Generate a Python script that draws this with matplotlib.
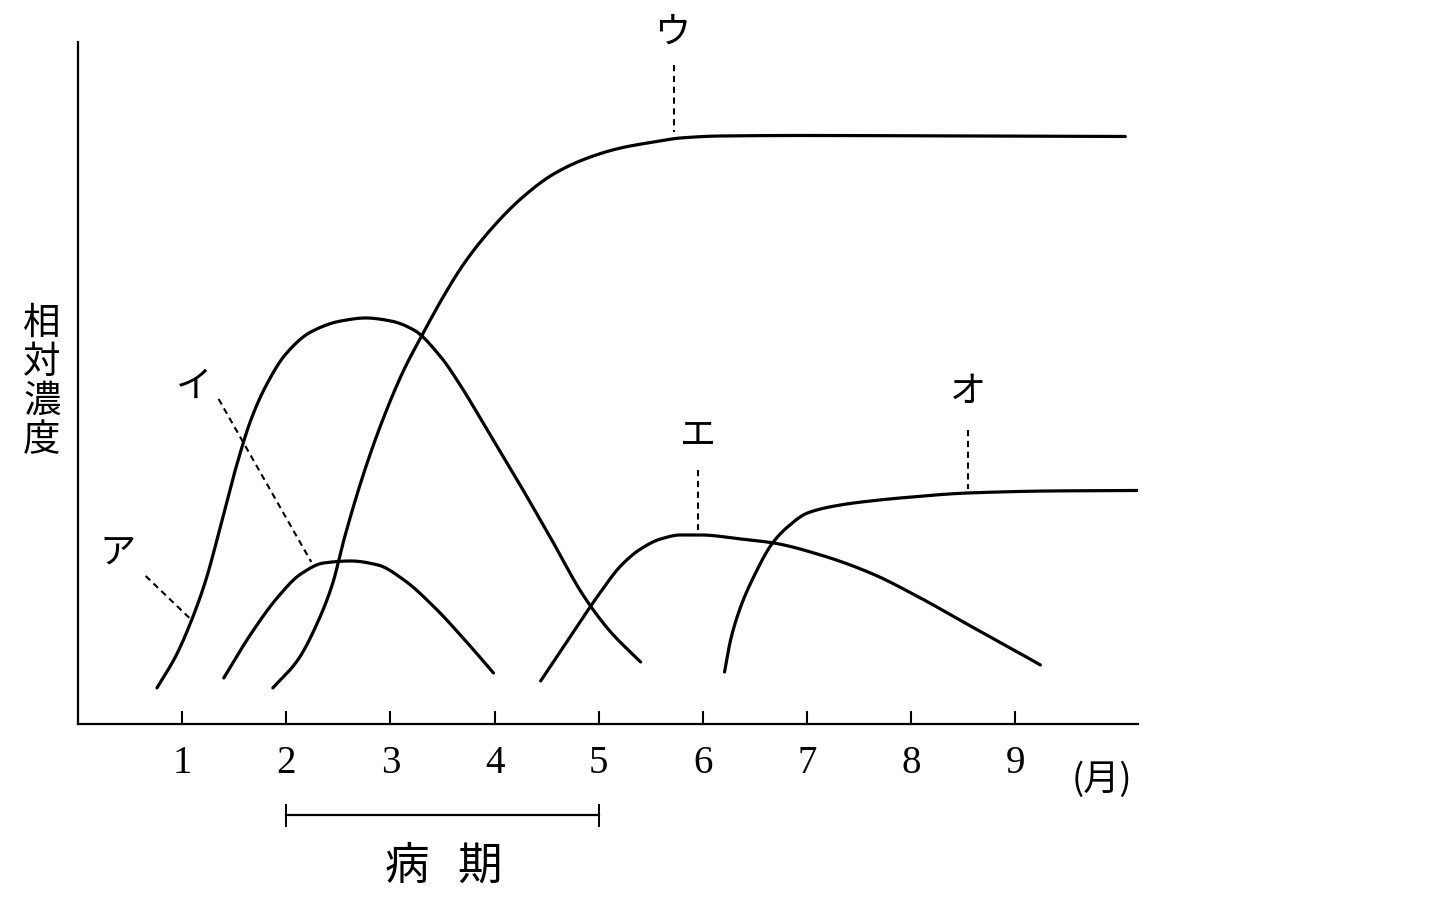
import numpy as np
import matplotlib
matplotlib.use("Agg")
import matplotlib.pyplot as plt

plt.rcParams['font.family'] = ['Noto Sans CJK JP', 'DejaVu Sans']

# months (x) and relative concentration (y)
a_x = [0.758, 0.940, 1.084, 1.228, 1.372, 1.516, 1.660, 1.804, 1.996, 2.236, 2.524,
       2.764, 3.004, 3.225, 3.484, 3.676, 3.896, 4.223, 4.539, 4.856, 5.115, 5.403]
a_y = [0.36, 0.68, 1.02, 1.44, 1.99, 2.56, 3.04, 3.38, 3.70, 3.92, 4.03,
       4.06, 4.03, 3.94, 3.67, 3.38, 3.00, 2.43, 1.86, 1.28, 0.92, 0.62]

i_x = [1.40, 1.66, 1.92, 2.14, 2.36, 2.62, 2.88, 3.13, 3.42, 3.74, 3.99]
i_y = [0.46, 0.90, 1.27, 1.50, 1.61, 1.63, 1.59, 1.44, 1.17, 0.81, 0.51]

u_x = [1.871, 2.111, 2.303, 2.447, 2.553, 2.745, 2.937, 3.129, 3.321, 3.512, 3.704,
       3.935, 4.251, 4.568, 4.894, 5.211, 5.528, 5.787, 6.171, 6.939, 8.378, 10.058]
u_y = [0.36, 0.64, 1.02, 1.41, 1.84, 2.51, 3.07, 3.54, 3.92, 4.28, 4.60,
       4.91, 5.25, 5.50, 5.66, 5.76, 5.82, 5.86, 5.88, 5.885, 5.88, 5.875]

e_x = [4.443, 4.635, 4.827, 5.019, 5.211, 5.403, 5.595, 5.787, 5.979, 6.363, 6.679,
       7.131, 7.610, 8.090, 8.570, 8.954, 9.242]
e_y = [0.43, 0.73, 1.03, 1.32, 1.58, 1.75, 1.85, 1.89, 1.89, 1.85, 1.81,
       1.69, 1.51, 1.26, 0.98, 0.76, 0.59]

o_x = [6.209, 6.267, 6.363, 6.488, 6.670, 6.814, 7.006, 7.322, 7.610, 7.898, 8.551,
       9.338, 10.182]
o_y = [0.52, 0.84, 1.17, 1.47, 1.81, 1.97, 2.11, 2.19, 2.23, 2.26, 2.31,
       2.33, 2.335]

months = [1, 2, 3, 4, 5, 6, 7, 8, 9]


def smooth(xs, ys, n=24):
    # monotone cubic (pchip style) through the read points
    xs = np.asarray(xs, float)
    ys = np.asarray(ys, float)
    h = np.diff(xs)
    d = np.diff(ys) / h
    m = np.zeros_like(ys)
    for k in range(1, len(xs) - 1):
        if d[k - 1] * d[k] > 0:
            w1 = 2 * h[k] + h[k - 1]
            w2 = h[k] + 2 * h[k - 1]
            m[k] = (w1 + w2) / (w1 / d[k - 1] + w2 / d[k])
    m[0] = d[0]
    m[-1] = d[-1]
    out_x, out_y = [], []
    for k in range(len(xs) - 1):
        t = np.linspace(0, 1, n, endpoint=False)
        h00 = 2 * t**3 - 3 * t**2 + 1
        h10 = t**3 - 2 * t**2 + t
        h01 = -2 * t**3 + 3 * t**2
        h11 = t**3 - t**2
        out_x.extend(xs[k] + t * h[k])
        out_y.extend(h00 * ys[k] + h10 * h[k] * m[k] + h01 * ys[k + 1] + h11 * h[k] * m[k + 1])
    out_x.append(xs[-1])
    out_y.append(ys[-1])
    return out_x, out_y


fig = plt.figure(figsize=(14.47, 8.99), dpi=100)
ax = fig.add_axes([0.0539, 0.1947, 0.7326, 0.7586])

for xs, ys in [(a_x, a_y), (i_x, i_y), (u_x, u_y), (e_x, e_y), (o_x, o_y)]:
    sx, sy = smooth(xs, ys)
    ax.plot(sx, sy, color='black', lw=2.3, solid_capstyle='round')

# labels with dashed leaders
lab_kw = dict(fontsize=26, ha='center', va='center')
dash_kw = dict(color='black', lw=1.5, linestyle=(0, (3, 2.2)))
ax.text(0.38, 1.71, 'ア', **lab_kw)
ax.plot([0.65, 1.08], [1.48, 1.05], **dash_kw)
ax.text(1.11, 3.37, 'イ', **lab_kw)
ax.plot([1.35, 2.24], [3.25, 1.62], **dash_kw)
ax.text(5.71, 6.91, 'ウ', clip_on=False, **lab_kw)
ax.plot([5.72, 5.72], [6.59, 5.92], **dash_kw)
ax.text(5.95, 2.88, 'エ', **lab_kw)
ax.plot([5.95, 5.95], [2.54, 1.94], **dash_kw)
ax.text(8.55, 3.32, 'オ', **lab_kw)
ax.plot([8.55, 8.55], [2.94, 2.35], **dash_kw)

ax.set_xlim(0, 10.18)
ax.set_ylim(0, 6.82)
for s in ['top', 'right']:
    ax.spines[s].set_visible(False)
ax.spines['left'].set_linewidth(1.6)
ax.spines['bottom'].set_linewidth(1.6)
ax.set_yticks([])
ax.set_xticks(months)
ax.set_xticklabels([str(m) for m in months], fontfamily='Liberation Serif', fontsize=28)
ax.tick_params(axis='x', direction='in', length=9.5, width=1.5, pad=15)

ax.text(9.83, -0.56, '(月)', fontsize=26, ha='center', va='center', clip_on=False)

# disease period bracket
ax.plot([2, 5], [-0.91, -0.91], color='black', lw=1.6, clip_on=False)
ax.plot([2, 2], [-0.81, -1.02], color='black', lw=1.4, clip_on=False)
ax.plot([5, 5], [-0.81, -1.02], color='black', lw=1.4, clip_on=False)
ax.text(3.16, -1.42, '病', fontsize=32, ha='center', va='center', clip_on=False)
ax.text(3.86, -1.42, '期', fontsize=32, ha='center', va='center', clip_on=False)

fig.text(42 / 1447, 1 - 382 / 899, '相\n対\n濃\n度', fontsize=27, ha='center', va='center',
         linespacing=1.0)

fig.savefig('out.png', dpi=100, facecolor='white')
